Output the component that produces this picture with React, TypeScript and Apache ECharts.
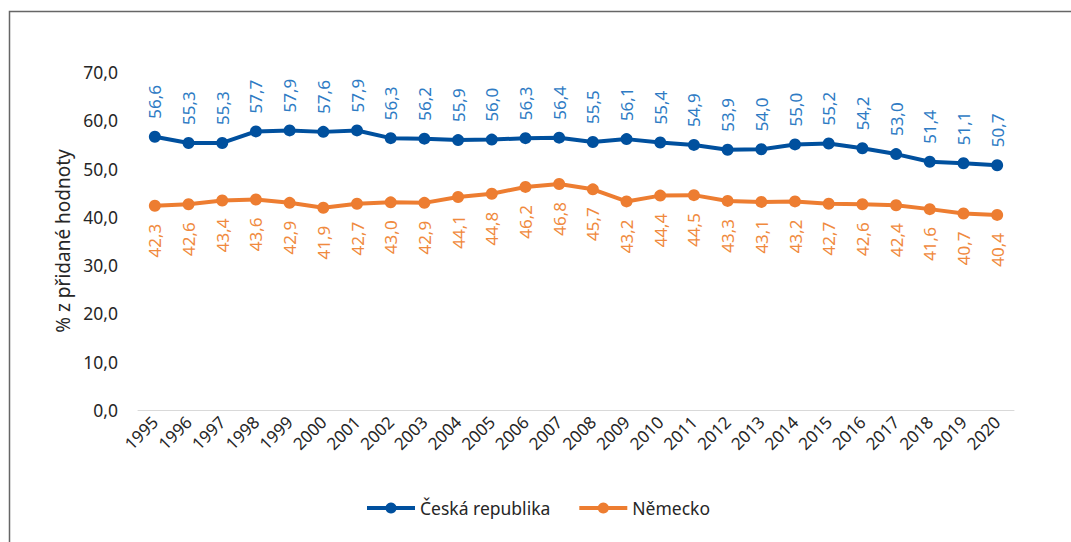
import React, { useEffect, useRef } from "react";
import * as echarts from "echarts";

const years = ["1995","1996","1997","1998","1999","2000","2001","2002","2003","2004","2005","2006","2007","2008","2009","2010","2011","2012","2013","2014","2015","2016","2017","2018","2019","2020"];
const czValues = [56.6,55.3,55.3,57.7,57.9,57.6,57.9,56.3,56.2,55.9,56.0,56.3,56.4,55.5,56.1,55.4,54.9,53.9,54.0,55.0,55.2,54.2,53.0,51.4,51.1,50.7];
const deValues = [42.3,42.6,43.4,43.6,42.9,41.9,42.7,43.0,42.9,44.1,44.8,46.2,46.8,45.7,43.2,44.4,44.5,43.3,43.1,43.2,42.7,42.6,42.4,41.6,40.7,40.4];
const seriesNames = ["Česká republika", "Německo"];
const yAxisName = "% z přidané hodnoty";

const fmt = (v: number) => v.toFixed(1).replace(".", ",");
const FONT = "'Noto Sans', 'Open Sans', sans-serif";

export default function App() {
  const ref = useRef<HTMLDivElement>(null);
  useEffect(() => {
    if (!ref.current) return;
    const chart = echarts.init(ref.current, null, { renderer: "svg" });
    chart.setOption({
      animation: false,
      backgroundColor: "#ffffff",
      textStyle: { fontFamily: FONT },
      graphic: [
        {
          type: "rect",
          shape: { x: 9.5, y: 11.5, width: 1200, height: 700 },
          style: { fill: "none", stroke: "#666666", lineWidth: 1.5 },
          silent: true,
          z: 100,
        },
      ],
      grid: { left: 138, right: 57, top: 72, bottom: 132, containLabel: false },
      legend: {
        bottom: 20,
        left: 360,
        itemWidth: 48,
        itemHeight: 14,
        itemGap: 27,
        lineStyle: { width: 4 },
        textStyle: { fontSize: 17.5, color: "#262626", fontFamily: FONT },
        data: seriesNames,
      },
      xAxis: {
        type: "category",
        data: years,
        boundaryGap: true,
        axisLine: { lineStyle: { color: "#d9d9d9", width: 1 } },
        axisTick: { show: false },
        axisLabel: { rotate: 45, fontSize: 17, color: "#262626", margin: 9, interval: 0, fontFamily: FONT },
      },
      yAxis: {
        type: "value",
        min: 0,
        max: 70,
        interval: 10,
        name: yAxisName,
        nameLocation: "middle",
        nameGap: 66,
        nameTextStyle: { fontSize: 19, color: "#262626", fontFamily: FONT },
        axisLine: { show: false },
        axisTick: { show: false },
        splitLine: { show: false },
        axisLabel: { formatter: fmt, fontSize: 17.5, color: "#262626", margin: 20, fontFamily: FONT },
      },
      series: [
        {
          name: seriesNames[0],
          type: "line",
          data: czValues,
          color: "#00509E",
          symbol: "circle",
          symbolSize: 12,
          lineStyle: { width: 4, color: "#00509E" },
          itemStyle: { color: "#00509E" },
          label: {
            show: true,
            position: "top",
            rotate: 90,
            align: "left",
            verticalAlign: "middle",
            distance: 12,
            fontSize: 17,
            color: "#2E7BC4",
            fontFamily: FONT,
            formatter: (p: any) => fmt(p.value),
          },
        },
        {
          name: seriesNames[1],
          type: "line",
          data: deValues,
          color: "#ED7D31",
          symbol: "circle",
          symbolSize: 12,
          lineStyle: { width: 4, color: "#ED7D31" },
          itemStyle: { color: "#ED7D31" },
          label: {
            show: true,
            position: "bottom",
            rotate: 90,
            align: "right",
            verticalAlign: "middle",
            distance: 12,
            fontSize: 17,
            color: "#F08A3E",
            fontFamily: FONT,
            formatter: (p: any) => fmt(p.value),
          },
        },
      ],
    });
    return () => chart.dispose();
  }, []);
  return <div ref={ref} style={{ position: "fixed", left: 0, top: 0, width: 1071, height: 542 }} />;
}
